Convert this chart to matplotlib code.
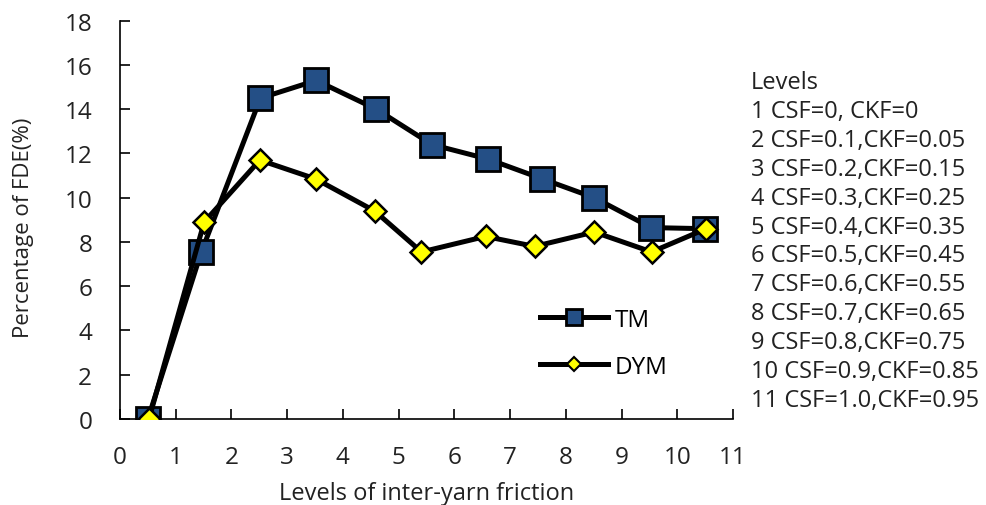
import matplotlib
matplotlib.use("Agg")
import matplotlib.pyplot as plt
from matplotlib.lines import Line2D

# ---- data ----
tm_x = [0.5, 1.46, 2.52, 3.52, 4.6, 5.6, 6.6, 7.58, 8.51, 9.53, 10.5]
tm_y = [0.0, 7.55, 14.5, 15.3, 14.0, 12.4, 11.75, 10.85, 10.0, 8.65, 8.6]
dym_x = [0.52, 1.51, 2.51, 3.51, 4.57, 5.41, 6.56, 7.44, 8.51, 9.54, 10.52]
dym_y = [0.0, 8.9, 11.7, 10.85, 9.4, 7.55, 8.25, 7.8, 8.45, 7.55, 8.6]
x_ticks = list(range(0, 12))
y_ticks = list(range(0, 19, 2))
level_title = "Levels"
level_labels = [
    "1 CSF=0, CKF=0",
    "2 CSF=0.1,CKF=0.05",
    "3 CSF=0.2,CKF=0.15",
    "4 CSF=0.3,CKF=0.25",
    "5 CSF=0.4,CKF=0.35",
    "6 CSF=0.5,CKF=0.45",
    "7 CSF=0.6,CKF=0.55",
    "8 CSF=0.7,CKF=0.65",
    "9 CSF=0.8,CKF=0.75",
    "10 CSF=0.9,CKF=0.85",
    "11 CSF=1.0,CKF=0.95",
]

plt.rcParams['font.family'] = ['Open Sans', 'DejaVu Sans']

W, H = 987, 506
fig = plt.figure(figsize=(W / 100, H / 100), dpi=100)
ax = fig.add_axes([120 / W, 1 - 420 / H, (733 - 120) / W, (420 - 21.7) / H])

blue = '#244F86'
ax.plot(tm_x, tm_y, color='black', lw=3.6, marker='s', ms=17,
        mfc=blue, mec='black', mew=2, label='TM', zorder=3)
ax.plot(dym_x, dym_y, color='black', lw=3.6, marker='D', ms=11,
        mfc='#FFFF00', mec='black', mew=1.8, label='DYM', zorder=4)

ax.set_xlim(0, 11)
ax.set_ylim(0, 18)
ax.set_xticks(x_ticks)
ax.set_yticks(y_ticks)
ax.tick_params(axis='both', direction='in', length=7, width=1.2,
               labelsize=17.5, colors='black')
ax.tick_params(axis='y', pad=20)
ax.tick_params(axis='x', pad=19)
for s in ['top', 'right']:
    ax.spines[s].set_visible(False)
for s in ['left', 'bottom']:
    ax.spines[s].set_linewidth(1.2)
for lab in ax.get_xticklabels() + ax.get_yticklabels():
    lab.set_color('#222222')

ax.set_xlabel('Levels of inter-yarn friction', fontsize=17, color='#222222',
              va='center')
ax.xaxis.set_label_coords(0.5, -(494 - 420) / 398.3)
ax.set_ylabel('Percentage of FDE(%)', fontsize=16, color='#222222',
              va='center')
ax.yaxis.set_label_coords((24 - 120) / 613, (420 - 228) / 398.3)

h_tm = Line2D([], [], color='black', lw=3.6, marker='s', ms=12,
              mfc=blue, mec='black', mew=2)
h_dym = Line2D([], [], color='black', lw=3.6, marker='D', ms=7,
               mfc='#FFFF00', mec='black', mew=1.5)
fig.legend([h_tm, h_dym], ['TM', 'DYM'], loc='upper left',
           bbox_to_anchor=(530 / W, 1 - 299 / H), frameon=False,
           fontsize=17.5, handlelength=2.8, labelspacing=0.95,
           handletextpad=0.3, borderaxespad=0)

fig.text(751 / W, 1 - 83 / H, level_title, fontsize=17, va='center',
         ha='left', color='#222222')
for i, t in enumerate(level_labels):
    fig.text(751 / W, 1 - (112 + i * 28.9) / H, t, fontsize=17,
             va='center', ha='left', color='#222222')

fig.savefig('out.png', dpi=100)
